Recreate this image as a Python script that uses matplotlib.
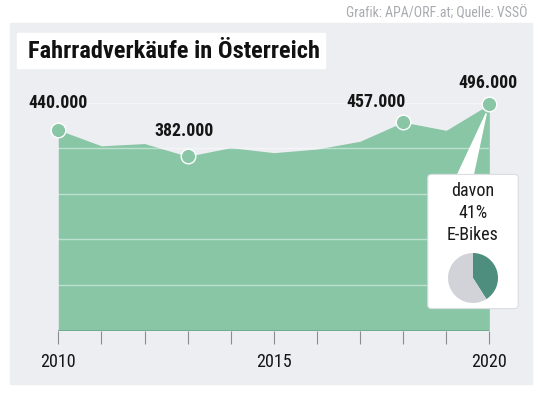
import numpy as np
import matplotlib
matplotlib.use("Agg")
import matplotlib.pyplot as plt
from matplotlib import font_manager
from matplotlib.patches import Rectangle, FancyBboxPatch, Polygon

# Fahrradverkäufe in Österreich (VSSÖ)
years = [2010, 2011, 2012, 2013, 2014, 2015, 2016, 2017, 2018, 2019, 2020]
sales = [440000, 405000, 410000, 382000, 401000, 390000, 398000, 415000, 457000, 439000, 496000]
labelled = [2010, 2013, 2018, 2020]
tick_labels = {2010: "2010", 2015: "2015", 2020: "2020"}
ebike_share = [41, 59]

title = "Fahrradverkäufe in Österreich"
source = "Grafik: APA/ORF.at; Quelle: VSSÖ"

# pick a narrow-ish font that is actually installed
main_font = "DejaVu Sans"
for cand in ["Liberation Sans Narrow", "Roboto Condensed", "Open Sans Condensed", "Roboto"]:
    try:
        font_manager.findfont(cand, fallback_to_default=False)
        main_font = cand
        break
    except ValueError:
        pass
plt.rcParams["font.family"] = [main_font, "DejaVu Sans"]
narrow = main_font != "Roboto" and main_font != "DejaVu Sans"
k = 1.0 if narrow else 0.86

green = "#88c6a5"
panel_bg = "#edeef2"

W, H = 549, 394
fig = plt.figure(figsize=(W / 100, H / 100), dpi=100)
fig.patch.set_facecolor("white")

def fx(px):
    return px / W

def fy(py):
    return 1 - py / H

# grey panel and title box
fig.patches.append(Rectangle((fx(10), fy(384)), fx(522), (384 - 23) / H,
                             transform=fig.transFigure, color=panel_bg, zorder=-2))
fig.patches.append(Rectangle((fx(16.7), fy(68.3)), fx(308.3), 35 / H,
                             transform=fig.transFigure, color="white", zorder=-1))
fig.text(fx(27.5), fy(51.5), title, fontsize=17.6 * k, fontweight="bold",
         va="center", ha="left", color="#111111")
fig.text(fx(527), fy(13.5), source, fontsize=10 * k, color="#a9abb0", ha="right", va="center")

ax = fig.add_axes([fx(58.3), fy(330.5), fx(431), (330.5 - 102.5) / H])
ax.set_zorder(2)
ax.set_facecolor("none")
ax.set_xlim(years[0], years[-1])
ax.set_ylim(0, 500000)

ax.fill_between(years, sales, 0, color=green, linewidth=0, zorder=2)
for g in range(100000, 500001, 100000):
    ax.axhline(g, color="white", alpha=0.45, linewidth=1, zorder=3)
ax.axhline(0, color="#6aa98a", linewidth=1.2, zorder=3)

for yr in labelled:
    v = sales[years.index(yr)]
    ax.plot(yr, v, "o", markersize=10.5, color=green, markeredgecolor="white",
            markeredgewidth=1, zorder=5, clip_on=False)

offsets = {2010: (0, 27), 2013: (-4, 25), 2018: (-27, 20), 2020: (-1, 21)}
for yr in labelled:
    v = sales[years.index(yr)]
    dx, dy = offsets[yr]
    ax.annotate(f"{v:,}".replace(",", "."), (yr, v), xytext=(dx * 0.72, dy * 0.72),
                textcoords="offset points", ha="center", va="center",
                fontsize=12.8 * k, fontweight="bold", color="#151515", zorder=6,
                annotation_clip=False)

for s in ax.spines.values():
    s.set_visible(False)
ax.set_yticks([])
ax.set_xticks(years)
ax.set_xticklabels([tick_labels.get(y, "") for y in years])
ax.tick_params(axis="x", length=9, width=0.8, color="#8a8c90", pad=7,
               labelsize=13 * k, labelcolor="#151515")

# callout with E-bike share
fig.canvas.draw()
apex = fig.transFigure.inverted().transform(ax.transData.transform((years[-1], sales[-1])))
apex_px = (apex[0] * W - 3, (1 - apex[1]) * H + 9)
fig.patches.append(Polygon([(fx(457), fy(176)), (fx(473), fy(176)),
                            (fx(apex_px[0]), fy(apex_px[1]))],
                           closed=True, transform=fig.transFigure,
                           color="white", zorder=7))
fig.patches.append(FancyBboxPatch((fx(430), fy(307)), fx(86), 131 / H,
                                  boxstyle="round,pad=0.004,rounding_size=0.008",
                                  transform=fig.transFigure, facecolor="white",
                                  edgecolor="#dcdde2", linewidth=0.8, zorder=7))
for txt, py in [("davon", 191.5), ("41%", 213), ("E-Bikes", 235)]:
    fig.text(fx(473), fy(py), txt, fontsize=13 * k, ha="center", va="center",
             color="#1a1a1a", zorder=8)

pax = fig.add_axes([fx(448), fy(303), fx(50), 50 / H])
pax.pie(ebike_share, colors=["#4d8e7f", "#d2d3d8"], startangle=90, counterclock=False,
        wedgeprops={"linewidth": 0})
pax.set_xlim(-1, 1)
pax.set_ylim(-1, 1)
pax.set_aspect("equal")
pax.set_zorder(9)

fig.savefig("out.png", dpi=100)
